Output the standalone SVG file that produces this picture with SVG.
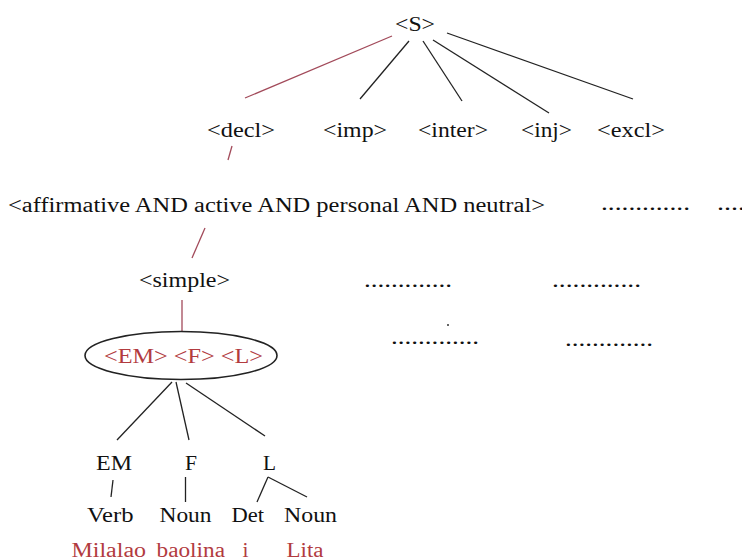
<svg xmlns="http://www.w3.org/2000/svg" width="742" height="560" viewBox="0 0 742 560">
<style>
text{font-family:"Liberation Serif","Times New Roman",serif;font-size:20px;fill:#111}
.r{fill:#b23b3f}
.dots{font-size:20px}
.k{stroke:#222;stroke-width:1.3;fill:none}
.rl{stroke:#a24a5a;stroke-width:1.3;fill:none}
</style>
<rect width="742" height="560" fill="#fff"/>
<g id="connectors">
<line class="rl" x1="392" y1="36" x2="245" y2="98"/>
<line class="k" x1="409" y1="41" x2="360" y2="99"/>
<line class="k" x1="423" y1="41" x2="462" y2="101"/>
<line class="k" x1="433" y1="40" x2="549" y2="113"/>
<line class="k" x1="447" y1="33" x2="633" y2="99"/>
<line class="rl" x1="232" y1="146" x2="228" y2="160"/>
<line class="rl" x1="205" y1="228" x2="192" y2="258"/>
<line class="rl" x1="182" y1="300" x2="182" y2="331"/>
<line class="k" x1="172" y1="382" x2="117" y2="440"/>
<line class="k" x1="176" y1="382" x2="189" y2="440"/>
<line class="k" x1="186" y1="383" x2="265" y2="436"/>
<line class="k" x1="113" y1="480" x2="111" y2="497"/>
<line class="k" x1="185.5" y1="477" x2="185.5" y2="502"/>
<line class="k" x1="268" y1="477" x2="257" y2="502"/>
<line class="k" x1="268" y1="477" x2="307" y2="497"/>
</g>
<g id="n-S"><text x="395" y="31" textLength="40" lengthAdjust="spacingAndGlyphs">&lt;S&gt;</text></g>
<g id="n-decl"><text x="207" y="137" textLength="68" lengthAdjust="spacingAndGlyphs">&lt;decl&gt;</text></g>
<g id="n-imp"><text x="323" y="137" textLength="64" lengthAdjust="spacingAndGlyphs">&lt;imp&gt;</text></g>
<g id="n-inter"><text x="418" y="137" textLength="70" lengthAdjust="spacingAndGlyphs">&lt;inter&gt;</text></g>
<g id="n-inj"><text x="521" y="137" textLength="51" lengthAdjust="spacingAndGlyphs">&lt;inj&gt;</text></g>
<g id="n-excl"><text x="597" y="137" textLength="68" lengthAdjust="spacingAndGlyphs">&lt;excl&gt;</text></g>
<g id="n-affirm"><text x="8" y="212" textLength="537" lengthAdjust="spacingAndGlyphs">&lt;affirmative AND active AND personal AND neutral&gt;</text></g>
<g id="n-dots1"><text class="dots" x="601" y="210" textLength="89" lengthAdjust="spacingAndGlyphs">.............</text></g>
<g id="n-dots2"><text class="dots" x="717" y="210" textLength="28" lengthAdjust="spacingAndGlyphs">....</text></g>
<g id="n-simple"><text x="139" y="287" textLength="91" lengthAdjust="spacingAndGlyphs">&lt;simple&gt;</text></g>
<g id="n-dots3"><text class="dots" x="364" y="287" textLength="88" lengthAdjust="spacingAndGlyphs">.............</text></g>
<g id="n-dots4"><text class="dots" x="552" y="287" textLength="89" lengthAdjust="spacingAndGlyphs">.............</text></g>
<circle cx="448" cy="325" r="1" fill="#333"/>
<g id="n-dots5"><text class="dots" x="391" y="344" textLength="88" lengthAdjust="spacingAndGlyphs">.............</text></g>
<g id="n-dots6"><text class="dots" x="565" y="346" textLength="88" lengthAdjust="spacingAndGlyphs">.............</text></g>
<g id="n-EMFL">
<ellipse cx="181" cy="355.5" rx="96" ry="24" fill="none" stroke="#222" stroke-width="1.6"/>
<text class="r" x="104" y="363" textLength="159" lengthAdjust="spacingAndGlyphs">&lt;EM&gt; &lt;F&gt; &lt;L&gt;</text>
</g>
<g id="n-EM"><text x="96" y="470" textLength="36" lengthAdjust="spacingAndGlyphs">EM</text></g>
<g id="n-F"><text x="185" y="470" textLength="12" lengthAdjust="spacingAndGlyphs">F</text></g>
<g id="n-L"><text x="263" y="470" textLength="13" lengthAdjust="spacingAndGlyphs">L</text></g>
<g id="n-verb"><text x="87" y="522" textLength="46.5" lengthAdjust="spacingAndGlyphs">Verb</text></g>
<g id="n-noun1"><text x="159.5" y="522" textLength="52" lengthAdjust="spacingAndGlyphs">Noun</text></g>
<g id="n-det"><text x="231.5" y="522" textLength="32.5" lengthAdjust="spacingAndGlyphs">Det</text></g>
<g id="n-noun2"><text x="284" y="522" textLength="53" lengthAdjust="spacingAndGlyphs">Noun</text></g>
<g id="n-milalao"><text class="r" x="71.5" y="557" textLength="74.5" lengthAdjust="spacingAndGlyphs">Milalao</text></g>
<g id="n-baolina"><text class="r" x="156.5" y="557" textLength="68.5" lengthAdjust="spacingAndGlyphs">baolina</text></g>
<g id="n-i"><text class="r" x="242.5" y="557" textLength="6" lengthAdjust="spacingAndGlyphs">i</text></g>
<g id="n-lita"><text class="r" x="286.5" y="557" textLength="37" lengthAdjust="spacingAndGlyphs">Lita</text></g>
</svg>
